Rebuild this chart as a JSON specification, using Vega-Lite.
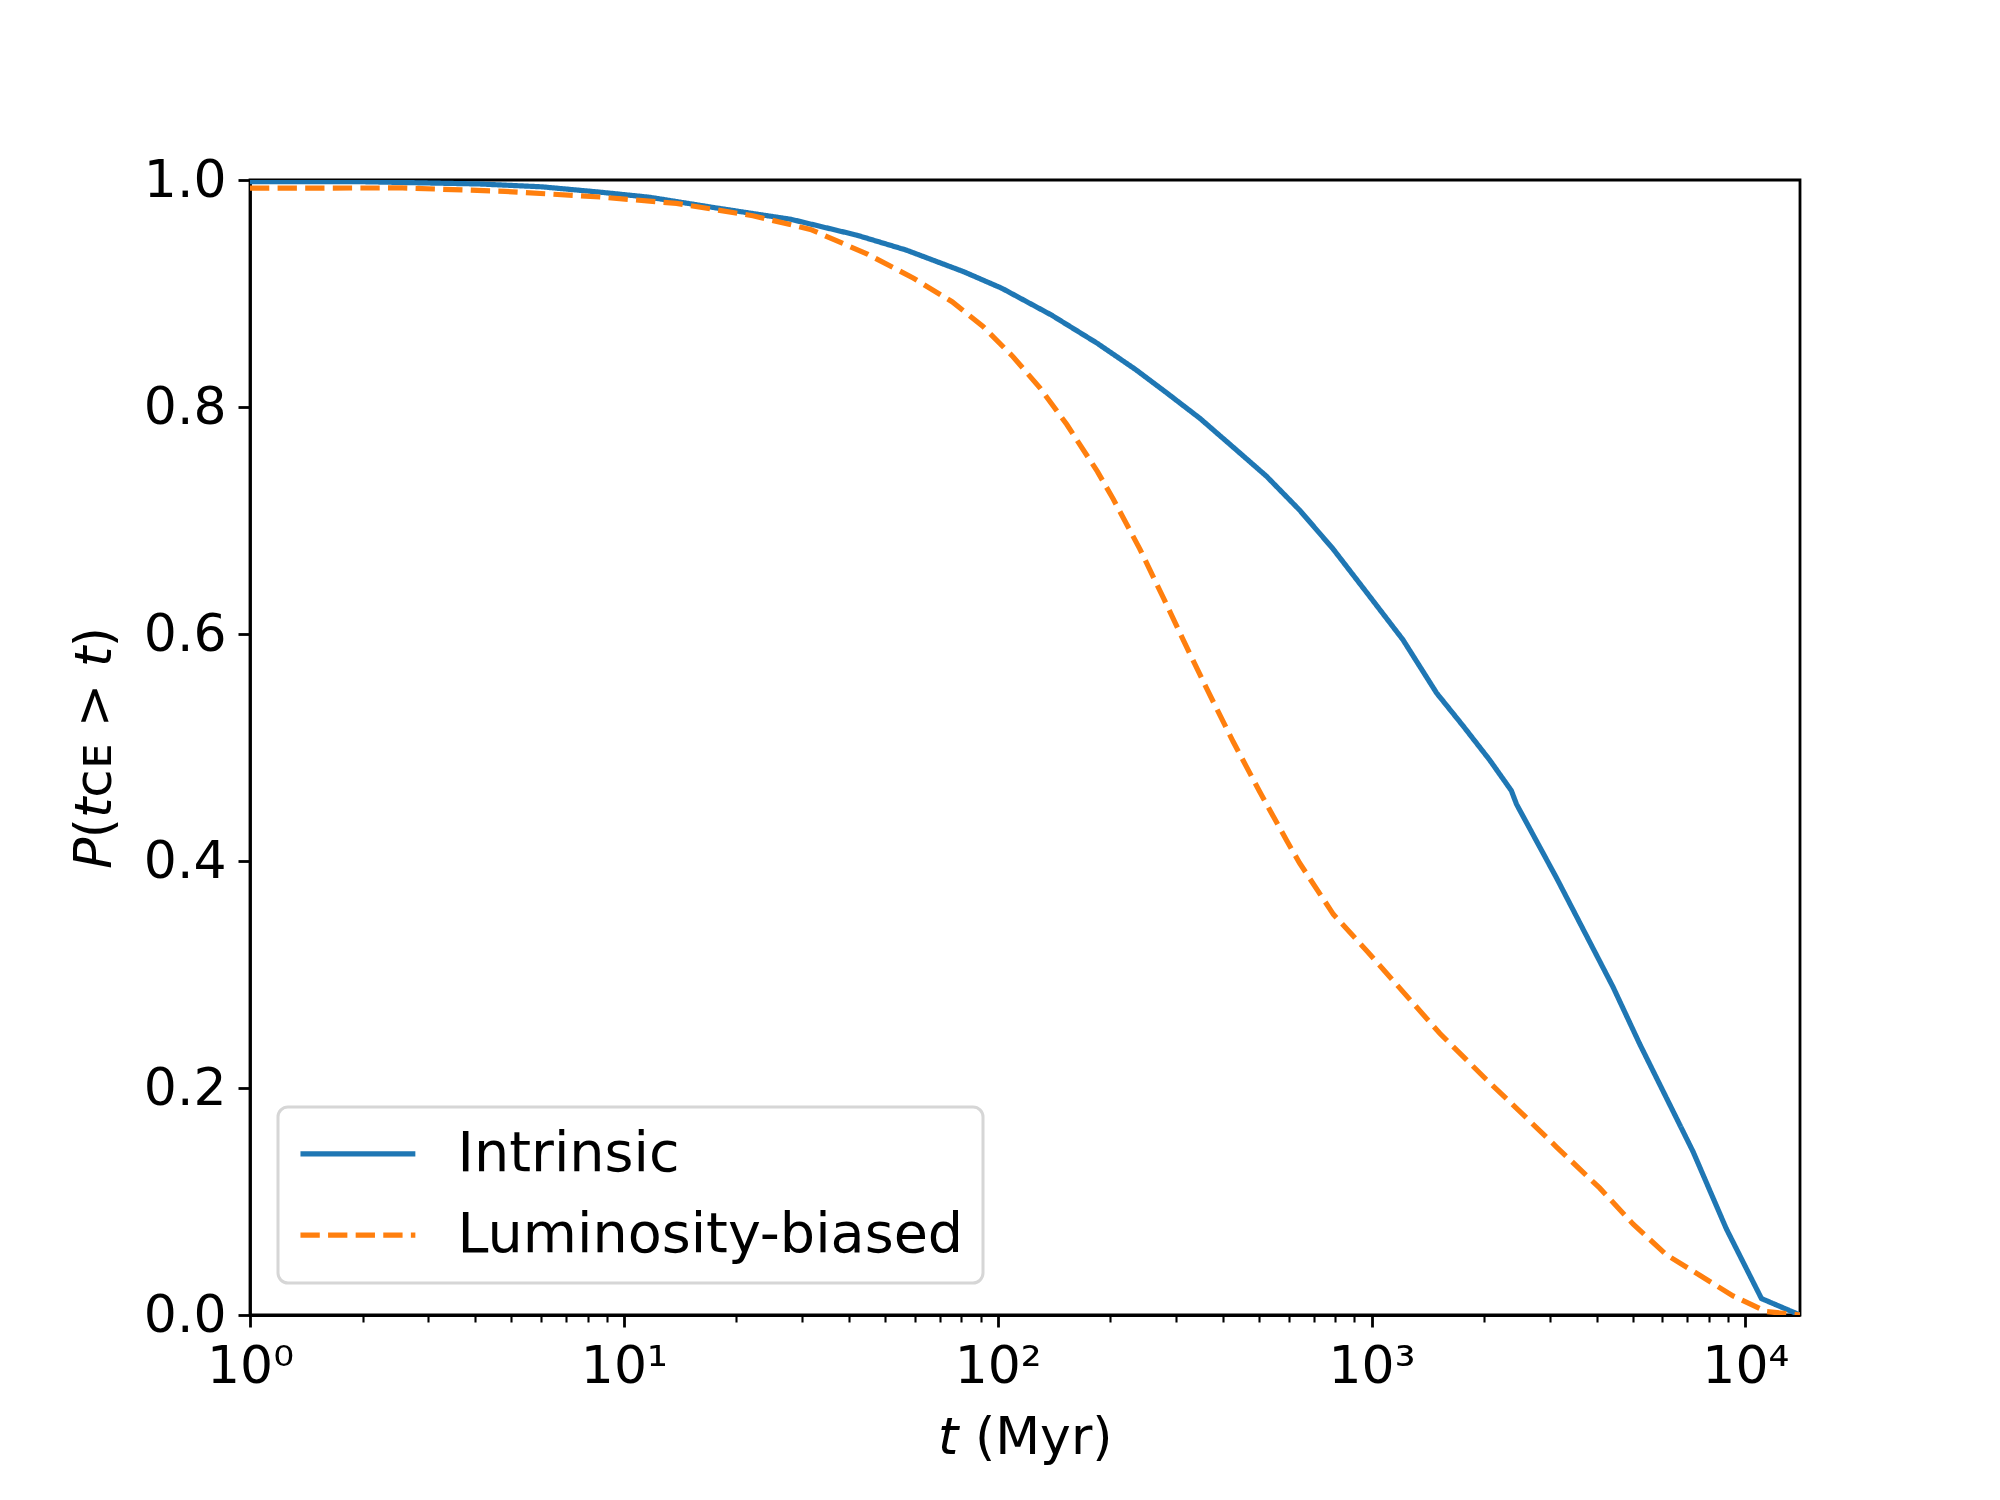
{
  "$schema": "https://vega.github.io/schema/vega-lite/v6.json",
  "width": 1550,
  "height": 1135,
  "autosize": {"type": "none"},
  "padding": {"left": 250, "top": 180, "right": 200, "bottom": 185},
  "background": "white",
  "config": {
    "font": "DejaVu Sans",
    "view": {"stroke": "black", "strokeWidth": 2.8},
    "axis": {
      "grid": false,
      "domainColor": "black",
      "domainWidth": 2.8,
      "tickColor": "black",
      "tickWidth": 2.8,
      "tickSize": 12,
      "labelColor": "black",
      "labelFont": "DejaVu Sans",
      "labelFontSize": 52,
      "labelPadding": 12,
      "titleColor": "black",
      "titleFont": "DejaVu Sans",
      "titleFontSize": 52,
      "titleFontWeight": "normal"
    },
    "legend": {
      "orient": "none",
      "legendX": 28,
      "legendY": 927,
      "padding": 19,
      "fillColor": "rgba(255,255,255,0.8)",
      "strokeColor": "#d6d6d6",
      "strokeWidth": 3,
      "cornerRadius": 10,
      "labelFont": "DejaVu Sans",
      "labelFontSize": 55.6,
      "labelColor": "black",
      "labelLimit": 1000,
      "labelOffset": 105,
      "rowPadding": 24.4,
      "symbolType": "M-1.69,0H6.29",
      "symbolSize": 829,
      "symbolStrokeWidth": 5.2,
      "symbolFillColor": "transparent"
    }
  },
  "data": {
    "values": [
      {"series": "Intrinsic", "t": 1, "p": 0.9985},
      {"series": "Intrinsic", "t": 1.995, "p": 0.9985},
      {"series": "Intrinsic", "t": 4.11, "p": 0.9965},
      {"series": "Intrinsic", "t": 6.03, "p": 0.994},
      {"series": "Intrinsic", "t": 8.63, "p": 0.9893},
      {"series": "Intrinsic", "t": 11.72, "p": 0.9848},
      {"series": "Intrinsic", "t": 17.5, "p": 0.9756},
      {"series": "Intrinsic", "t": 28.05, "p": 0.9653},
      {"series": "Intrinsic", "t": 41.88, "p": 0.9515},
      {"series": "Intrinsic", "t": 56.89, "p": 0.9383},
      {"series": "Intrinsic", "t": 81.1, "p": 0.9192},
      {"series": "Intrinsic", "t": 102.6, "p": 0.9046},
      {"series": "Intrinsic", "t": 139.3, "p": 0.881},
      {"series": "Intrinsic", "t": 184.9, "p": 0.856},
      {"series": "Intrinsic", "t": 233.9, "p": 0.833},
      {"series": "Intrinsic", "t": 281.8, "p": 0.813},
      {"series": "Intrinsic", "t": 347.5, "p": 0.790},
      {"series": "Intrinsic", "t": 435.5, "p": 0.762},
      {"series": "Intrinsic", "t": 523.6, "p": 0.739},
      {"series": "Intrinsic", "t": 642.7, "p": 0.709},
      {"series": "Intrinsic", "t": 788.9, "p": 0.675},
      {"series": "Intrinsic", "t": 968.3, "p": 0.637},
      {"series": "Intrinsic", "t": 1213, "p": 0.595},
      {"series": "Intrinsic", "t": 1493, "p": 0.548},
      {"series": "Intrinsic", "t": 1758, "p": 0.519},
      {"series": "Intrinsic", "t": 2070, "p": 0.489},
      {"series": "Intrinsic", "t": 2366, "p": 0.462},
      {"series": "Intrinsic", "t": 2443, "p": 0.450},
      {"series": "Intrinsic", "t": 3126, "p": 0.385},
      {"series": "Intrinsic", "t": 4426, "p": 0.289},
      {"series": "Intrinsic", "t": 5212, "p": 0.239},
      {"series": "Intrinsic", "t": 7244, "p": 0.144},
      {"series": "Intrinsic", "t": 8892, "p": 0.076},
      {"series": "Intrinsic", "t": 11041, "p": 0.0145},
      {"series": "Intrinsic", "t": 14000, "p": 0.0},
      {"series": "Luminosity-biased", "t": 1, "p": 0.9928},
      {"series": "Luminosity-biased", "t": 2.56, "p": 0.993},
      {"series": "Luminosity-biased", "t": 4.81, "p": 0.990},
      {"series": "Luminosity-biased", "t": 8.63, "p": 0.985},
      {"series": "Luminosity-biased", "t": 13.84, "p": 0.9794},
      {"series": "Luminosity-biased", "t": 22.13, "p": 0.9685},
      {"series": "Luminosity-biased", "t": 31.55, "p": 0.9565},
      {"series": "Luminosity-biased", "t": 44.98, "p": 0.9345},
      {"series": "Luminosity-biased", "t": 59.57, "p": 0.9134},
      {"series": "Luminosity-biased", "t": 75.51, "p": 0.8928},
      {"series": "Luminosity-biased", "t": 91.2, "p": 0.8712},
      {"series": "Luminosity-biased", "t": 109.9, "p": 0.8443},
      {"series": "Luminosity-biased", "t": 129.7, "p": 0.8169},
      {"series": "Luminosity-biased", "t": 153.1, "p": 0.7846},
      {"series": "Luminosity-biased", "t": 184.9, "p": 0.743},
      {"series": "Luminosity-biased", "t": 203.7, "p": 0.719},
      {"series": "Luminosity-biased", "t": 239.9, "p": 0.675},
      {"series": "Luminosity-biased", "t": 277.3, "p": 0.632},
      {"series": "Luminosity-biased", "t": 313.3, "p": 0.595},
      {"series": "Luminosity-biased", "t": 362.2, "p": 0.552},
      {"series": "Luminosity-biased", "t": 426.6, "p": 0.505},
      {"series": "Luminosity-biased", "t": 502.3, "p": 0.461},
      {"series": "Luminosity-biased", "t": 592.9, "p": 0.418},
      {"series": "Luminosity-biased", "t": 642.7, "p": 0.398},
      {"series": "Luminosity-biased", "t": 790.7, "p": 0.353},
      {"series": "Luminosity-biased", "t": 970.5, "p": 0.321},
      {"series": "Luminosity-biased", "t": 1524, "p": 0.248},
      {"series": "Luminosity-biased", "t": 2028, "p": 0.2075},
      {"series": "Luminosity-biased", "t": 2393, "p": 0.185},
      {"series": "Luminosity-biased", "t": 3126, "p": 0.148},
      {"series": "Luminosity-biased", "t": 4074, "p": 0.112},
      {"series": "Luminosity-biased", "t": 5012, "p": 0.080},
      {"series": "Luminosity-biased", "t": 6152, "p": 0.053},
      {"series": "Luminosity-biased", "t": 7551, "p": 0.035},
      {"series": "Luminosity-biased", "t": 9268, "p": 0.0168},
      {"series": "Luminosity-biased", "t": 11376, "p": 0.003},
      {"series": "Luminosity-biased", "t": 14000, "p": 0.0}
    ]
  },
  "mark": {"type": "line", "strokeWidth": 5.2, "clip": true},
  "encoding": {
    "x": {
      "field": "t",
      "type": "quantitative",
      "scale": {"type": "log", "domain": [1, 14000], "nice": false},
      "axis": {
        "title": "𝘵 (Myr)",
        "titlePadding": 20,
        "labelPadding": 14,
        "values": [1, 2, 3, 4, 5, 6, 7, 8, 9, 10, 20, 30, 40, 50, 60, 70, 80, 90, 100, 200, 300, 400, 500, 600, 700, 800, 900, 1000, 2000, 3000, 4000, 5000, 6000, 7000, 8000, 9000, 10000],
        "labelExpr": "datum.value == 1 ? '10⁰' : datum.value == 10 ? '10¹' : datum.value == 100 ? '10²' : datum.value == 1000 ? '10³' : datum.value == 10000 ? '10⁴' : ''",
        "labelOverlap": false,
        "labelFlush": false,
        "tickSize": {"condition": {"test": "indexof([1, 10, 100, 1000, 10000], datum.value) >= 0", "value": 12}, "value": 7},
        "tickWidth": {"condition": {"test": "indexof([1, 10, 100, 1000, 10000], datum.value) >= 0", "value": 2.8}, "value": 2.1}
      }
    },
    "y": {
      "field": "p",
      "type": "quantitative",
      "scale": {"domain": [0, 1], "nice": false},
      "axis": {
        "title": "𝘗(𝘵ᴄᴇ > 𝘵)",
        "titlePadding": 22,
        "values": [0, 0.2, 0.4, 0.6, 0.8, 1.0],
        "format": ".1f"
      }
    },
    "color": {
      "field": "series",
      "type": "nominal",
      "scale": {"domain": ["Intrinsic", "Luminosity-biased"], "range": ["#1f77b4", "#ff7f0e"]},
      "legend": {"title": null}
    },
    "strokeDash": {
      "field": "series",
      "type": "nominal",
      "scale": {"domain": ["Intrinsic", "Luminosity-biased"], "range": [[1, 0], [19.3, 8.3]]},
      "legend": {"title": null}
    }
  }
}
